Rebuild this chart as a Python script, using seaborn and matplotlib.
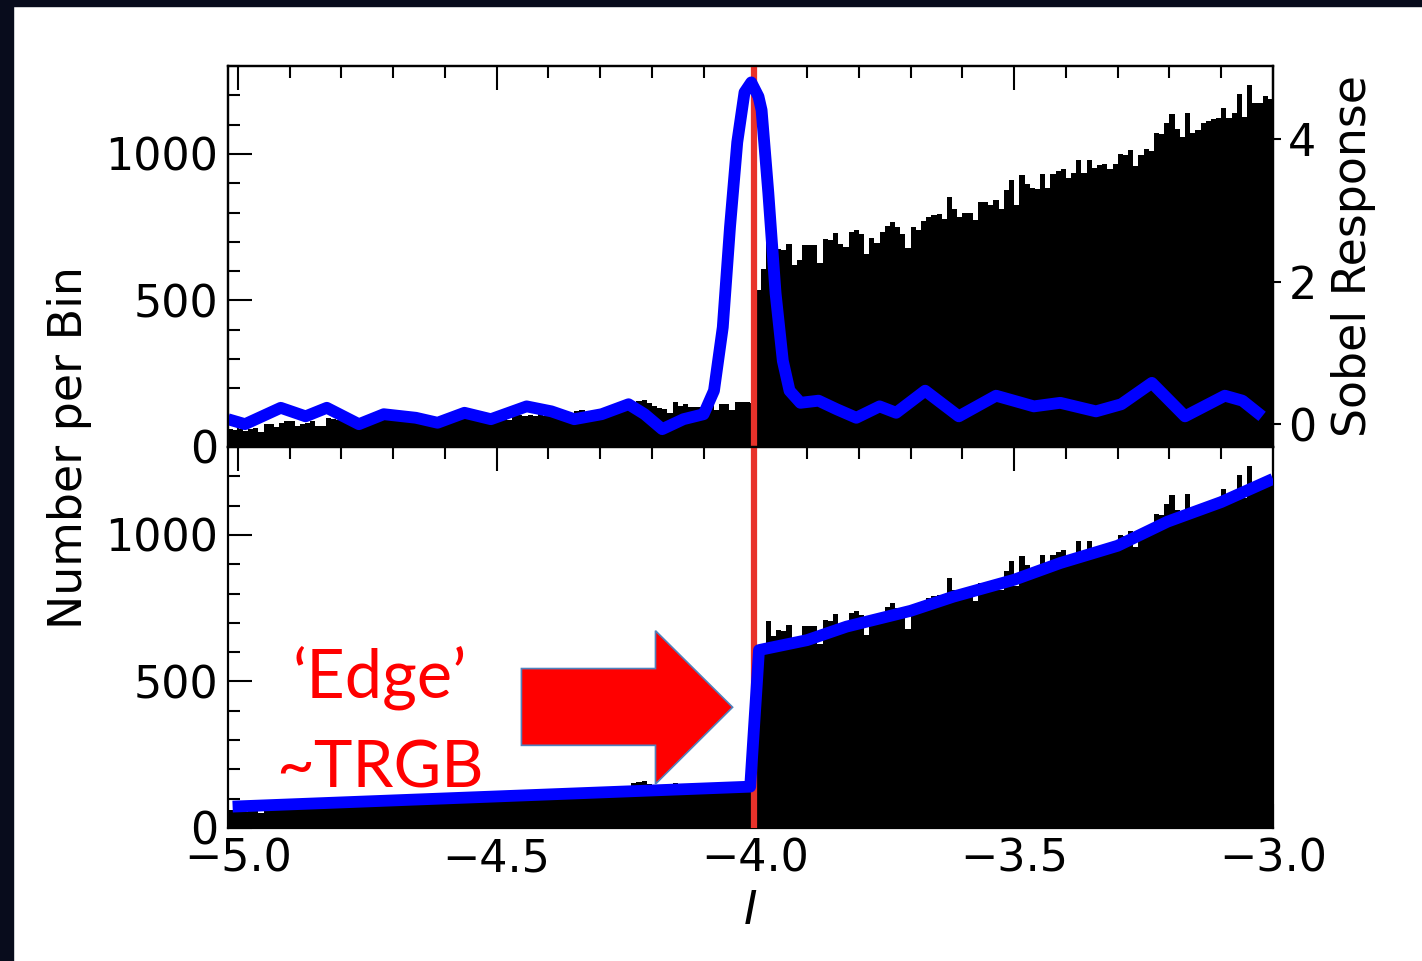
import numpy as np
import pandas as pd
import matplotlib
matplotlib.use("Agg")
import matplotlib.pyplot as plt
import seaborn as sns
from matplotlib.patches import Polygon, Rectangle
from matplotlib.ticker import MultipleLocator

# ---------------- data ----------------
# histogram counts per 0.01 mag bin
counts_faint = [  # bins -5.02 ... -4.01
    60, 58,
    60, 55, 62, 65, 50, 78, 78, 68, 82, 89,
    89, 72, 78, 82, 89, 72, 72, 99, 95, 92,
    90, 85, 88, 99, 101, 96, 100, 94, 98, 102,
    100, 97, 103, 99, 105, 101, 104, 98, 102, 100,
    103, 99, 106, 102, 108, 104, 100, 107, 103, 110,
    105, 108, 92, 106, 109, 104, 110, 107, 112, 106,
    112, 108, 126, 119, 115, 123, 126, 118, 121, 124,
    125, 130, 122, 128, 135, 140, 154, 157, 160, 150,
    141, 134, 128, 116, 154, 140, 148, 136, 138, 138,
    142, 145, 126, 148, 148, 126, 154, 154, 152, 150,
]
counts_bright = [  # bins -4.00 ... -3.01
    536, 607, 705, 655, 675, 672, 693, 621, 638, 689,
    689, 689, 627, 710, 705, 730, 693, 682, 734, 740,
    727, 659, 713, 696, 734, 754, 768, 751, 727, 679,
    751, 740, 771, 785, 792, 795, 778, 853, 812, 785,
    799, 799, 775, 836, 836, 826, 843, 812, 877, 911,
    826, 928, 898, 884, 880, 932, 884, 932, 942, 949,
    918, 935, 980, 935, 980, 952, 962, 966, 949, 966,
    1000, 997, 1014, 959, 997, 1017, 1010, 1072, 1068, 1106,
    1137, 1085, 1058, 1140, 1072, 1082, 1106, 1113, 1119, 1123,
    1157, 1123, 1140, 1205, 1126, 1235, 1174, 1174, 1198, 1188,
]
bin_start = -5.02
bin_width = 0.01

# Sobel edge-detector response (top panel, right axis)
sobel_mag = [-5.019, -4.986, -4.917, -4.869, -4.828, -4.766, -4.718, -4.656,
             -4.614, -4.562, -4.511, -4.442, -4.394, -4.350, -4.297, -4.245,
             -4.214, -4.180, -4.139, -4.100, -4.080, -4.063, -4.049, -4.035,
             -4.021, -4.008, -3.994, -3.988, -3.975, -3.961, -3.947, -3.934,
             -3.913, -3.878, -3.843, -3.805, -3.760, -3.728, -3.672, -3.607,
             -3.535, -3.462, -3.411, -3.342, -3.293, -3.234, -3.170, -3.093,
             -3.059, -3.021]
sobel_resp = [0.07, 0.00, 0.23, 0.11, 0.23, 0.00, 0.14, 0.09,
              0.02, 0.16, 0.07, 0.25, 0.18, 0.07, 0.14, 0.28,
              0.14, -0.07, 0.07, 0.14, 0.47, 1.36, 2.77, 3.96,
              4.66, 4.80, 4.60, 4.41, 3.25, 1.84, 0.89, 0.47,
              0.30, 0.33, 0.21, 0.09, 0.25, 0.16, 0.47, 0.11,
              0.40, 0.25, 0.30, 0.18, 0.28, 0.58, 0.11, 0.40,
              0.33, 0.11]

# broken luminosity-function fit (bottom panel)
fit_mag = [-5.010, -4.010, -3.993, -3.900, -3.824, -3.700, -3.618, -3.500,
           -3.411, -3.300, -3.204, -3.100, -3.000]
fit_count = [73, 141, 607, 641, 687, 741, 789, 847, 904, 963, 1045, 1112, 1191]

trgb_mag = -4.003
x_ticks_major = [-5.0, -4.5, -4.0, -3.5, -3.0]
y_right_ticks = [0, 2, 4]

# ---------------- figure ----------------
sns.set_style("white", rc={"axes.edgecolor": "black", "xtick.color": "black",
                           "ytick.color": "black", "text.color": "black",
                           "axes.labelcolor": "black"})
plt.rcParams["font.family"] = ["DejaVu Sans"]
plt.rcParams["mathtext.fontset"] = "dejavusans"

counts = counts_faint + counts_bright
n_bins = len(counts)
centers = bin_start + bin_width * (np.arange(n_bins) + 0.5)
hist_df = pd.DataFrame({"mag": centers, "n": counts})
sobel_df = pd.DataFrame({"mag": sobel_mag, "resp": sobel_resp})
fit_df = pd.DataFrame({"mag": fit_mag, "n": fit_count})

fig = plt.figure(figsize=(14.22, 9.61), dpi=100)
fig.patch.set_facecolor("white")
ax1 = fig.add_axes([0.1603, 0.5349, 0.7349, 0.3964])
ax2 = fig.add_axes([0.1603, 0.1384, 0.7349, 0.3965])

BLUE = "#0000ff"
RED = "#e8322a"
LW_BLUE = 8.5

for ax in (ax1, ax2):
    sns.histplot(data=hist_df, x="mag", weights="n", bins=n_bins,
                 binrange=(bin_start, bin_start + bin_width * n_bins),
                 element="step", fill=True, color="black", alpha=1,
                 linewidth=0, ax=ax, zorder=1)
    ax.axvline(trgb_mag, color=RED, lw=4.5, zorder=3)
    ax.set_xlim(-5.019, -3.0)
    ax.set_ylim(0, 1300)
    ax.set_xticks(x_ticks_major)
    ax.xaxis.set_minor_locator(MultipleLocator(0.1))
    ax.yaxis.set_major_locator(MultipleLocator(500))
    ax.yaxis.set_minor_locator(MultipleLocator(100))
    ax.tick_params(which="both", direction="in", top=True, bottom=True,
                   left=True, right=False, width=1.5, colors="black")
    ax.tick_params(which="major", length=17, labelsize=32, pad=7)
    ax.tick_params(which="minor", length=8.5)
    ax.set_xlabel("")
    ax.set_ylabel("")
    for s in ax.spines.values():
        s.set_linewidth(1.6)
        s.set_color("black")

ax1.tick_params(labelbottom=False)

# Sobel response on twin axis
ax1t = ax1.twinx()
sns.lineplot(data=sobel_df, x="mag", y="resp", color=BLUE, linewidth=LW_BLUE,
             estimator=None, sort=False, ax=ax1t, solid_joinstyle="round",
             solid_capstyle="butt")
ax1t.set_ylim(-0.32, 5.03)
ax1t.set_xlim(-5.019, -3.0)
ax1t.set_yticks(y_right_ticks)
ax1t.tick_params(axis="y", direction="out", length=6, width=1.5, labelsize=32,
                 pad=5, colors="black")
ax1t.set_xlabel("")
ax1t.set_ylabel("Sobel Response", fontsize=33, labelpad=10)
for s in ax1t.spines.values():
    s.set_linewidth(1.6)

# fit on bottom panel
sns.lineplot(data=fit_df, x="mag", y="n", color=BLUE, linewidth=LW_BLUE,
             estimator=None, sort=False, ax=ax2, zorder=4,
             solid_joinstyle="round", solid_capstyle="butt")
ax2.set_xlabel("$I$", fontsize=33, labelpad=6)
ax2.set_ylabel("")

# arrow annotation
arrow_verts = [(-4.452, 544), (-4.193, 544), (-4.193, 673), (-4.044, 412),
               (-4.193, 150), (-4.193, 282), (-4.452, 282)]
ax2.add_patch(Polygon(arrow_verts, closed=True, facecolor="#ff0000",
                      edgecolor="#4f81bd", linewidth=1.2, zorder=5))
ax2.text(-4.726, 446, "\u2018Edge\u2019", color="#ff0000", fontsize=48,
         family=["Lato", "DejaVu Sans"], ha="center", va="baseline", zorder=6)
ax2.text(-4.726, 139, "~TRGB", color="#ff0000", fontsize=47,
         family=["Lato", "DejaVu Sans"], ha="center", va="baseline", zorder=6)

fig.text(0.049, 0.534, "Number per Bin", rotation=90, ha="center",
         va="center", fontsize=33)

# dark slide border
fig.add_artist(Rectangle((0, 0), 13 / 1422, 1, transform=fig.transFigure,
                         color="#080c1c", zorder=10))
fig.add_artist(Rectangle((0, 1 - 6 / 961), 1, 6 / 961, transform=fig.transFigure,
                         color="#080c1c", zorder=10))

fig.savefig("out.png", dpi=100)
